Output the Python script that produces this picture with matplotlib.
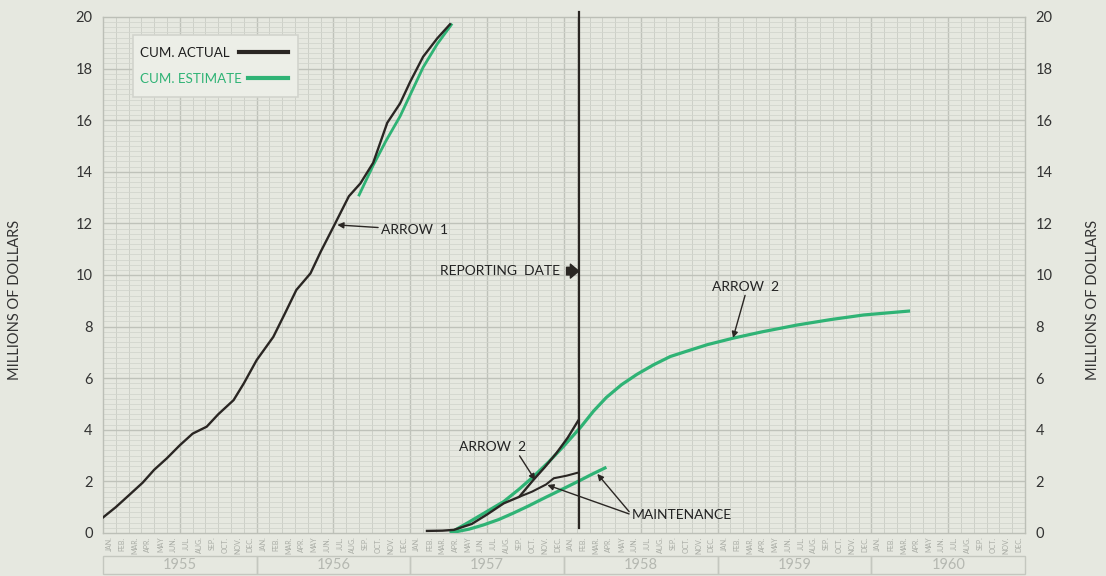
import matplotlib.pyplot as plt
from matplotlib.patches import Rectangle
import matplotlib.transforms as mtransforms

plt.rcParams['font.family'] = ['Lato', 'DejaVu Sans']

BG = '#e6e8e0'
GREEN = '#2fb375'
BLACK = '#2a2623'

years = ['1955', '1956', '1957', '1958', '1959', '1960']
months = ['JAN.', 'FEB.', 'MAR.', 'APR.', 'MAY', 'JUN.', 'JUL.', 'AUG.', 'SEP.', 'OCT.', 'NOV.', 'DEC.']

# x in months counted from start of Jan 1955, y in millions of dollars
actual1_x = [0.0, 1.0, 2.0, 3.1, 4.0, 5.0, 6.0, 7.0, 8.1, 9.0, 10.2, 11.0, 12.0, 13.3, 14.2, 15.1, 16.2,
             17.0, 18.0, 19.2, 20.1, 21.1, 22.2, 23.2, 24.0, 25.0, 26.1, 27.1]
actual1_y = [0.6, 1.0, 1.45, 1.95, 2.45, 2.9, 3.4, 3.85, 4.12, 4.6, 5.15, 5.8, 6.7, 7.6, 8.5, 9.42, 10.06,
             10.9, 11.87, 13.05, 13.55, 14.35, 15.9, 16.65, 17.5, 18.46, 19.17, 19.72]
estimate1_x = [20.0, 21.1, 22.1, 23.2, 24.1, 25.0, 26.1, 27.2]
estimate1_y = [13.1, 14.25, 15.2, 16.15, 17.1, 18.05, 18.95, 19.7]

actual2_x = [25.3, 26.5, 27.4, 28.8, 30.0, 31.3, 32.5, 33.6, 34.5, 35.4, 36.3, 37.1]
actual2_y = [0.08, 0.09, 0.12, 0.35, 0.72, 1.15, 1.4, 2.05, 2.55, 3.09, 3.7, 4.35]
maint_act_x = [32.5, 33.5, 34.6, 35.2, 36.2, 37.1]
maint_act_y = [1.4, 1.6, 1.88, 2.12, 2.22, 2.34]

estimate2_x = [27.2, 28.5, 29.8, 31.3, 32.5, 33.6, 34.8, 36.0, 37.3, 38.3, 39.3, 40.5, 41.7, 43.0, 44.3,
               45.8, 47.2, 49.2, 51.5, 54.2, 56.8, 59.4, 62.9]
estimate2_y = [0.03, 0.4, 0.78, 1.22, 1.7, 2.18, 2.75, 3.38, 4.1, 4.72, 5.25, 5.75, 6.15, 6.52, 6.84,
               7.08, 7.3, 7.55, 7.8, 8.06, 8.27, 8.45, 8.6]
maint_est_x = [27.4, 28.6, 29.7, 30.9, 32.0, 33.2, 34.4, 35.8, 37.1, 38.2, 39.2]
maint_est_y = [0.03, 0.15, 0.31, 0.52, 0.76, 1.04, 1.34, 1.68, 2.0, 2.28, 2.52]

reporting_date = 37.15

fig = plt.figure(figsize=(11.06, 5.76), dpi=100, facecolor=BG)
ax = fig.add_axes([0.0931, 0.0747, 0.8337, 0.8958], facecolor=BG)

ax.set_xlim(0, 72)
ax.set_ylim(0, 20)

# graph paper grid
for m in range(1, 72):
    lw = 1.0 if m % 6 == 0 else 0.6
    ax.axvline(m, color='#c9ccc4' if m % 6 else '#bfc2ba', lw=lw, zorder=0)
for i in range(1, 100):
    v = i * 0.2
    major = i % 10 == 0
    ax.axhline(v, color='#bfc2ba' if major else '#d2d5cd', lw=1.0 if major else 0.6, zorder=0)

for s in ax.spines.values():
    s.set_color('#bcbfb7')
    s.set_linewidth(1.0)

ax.set_xticks([])
ax.set_yticks(range(0, 21, 2))
ax.tick_params(axis='y', left=False, right=False, labelleft=True, labelright=True,
               labelsize=10.5, labelcolor='#333333', pad=4)

# lines
ax.plot(actual1_x, actual1_y, color=BLACK, lw=1.7, zorder=4)
ax.plot(estimate1_x, estimate1_y, color=GREEN, lw=2.0, zorder=3)
ax.plot(estimate2_x, estimate2_y, color=GREEN, lw=2.3, zorder=3)
ax.plot(maint_est_x, maint_est_y, color=GREEN, lw=2.3, zorder=3)
ax.plot(actual2_x, actual2_y, color=BLACK, lw=1.7, zorder=4)
ax.plot(maint_act_x, maint_act_y, color=BLACK, lw=1.5, zorder=4)

ax.axvline(reporting_date, ymin=0.01, ymax=1.01, color=BLACK, lw=1.6, clip_on=False, zorder=5)

# annotations
arrow = dict(arrowstyle='-|>', color=BLACK, lw=1.0, mutation_scale=9, shrinkA=0, shrinkB=0)
ax.annotate('ARROW  1', xy=(18.3, 11.94), xytext=(21.7, 11.75), fontsize=10, color='#222222',
            va='center', ha='left', arrowprops=arrow)
ax.text(35.7, 10.15, 'REPORTING  DATE', fontsize=10, color='#222222', va='center', ha='right')
ax.annotate('', xy=(reporting_date, 10.15), xytext=(36.2, 10.15),
            arrowprops=dict(arrowstyle='simple,head_width=1.0,head_length=0.6,tail_width=0.55',
                            color=BLACK, shrinkA=0, shrinkB=0))
ax.annotate('ARROW  2', xy=(49.2, 7.56), xytext=(50.2, 9.55), fontsize=10, color='#222222',
            va='center', ha='center', arrowprops=dict(arrow, relpos=(0.5, 0.0)))
ax.annotate('ARROW  2', xy=(33.75, 2.05), xytext=(30.4, 3.33), fontsize=10, color='#222222',
            va='center', ha='center', arrowprops=dict(arrow, relpos=(0.88, 0.0)))
ax.annotate('MAINTENANCE', xy=(34.7, 1.86), xytext=(41.3, 0.7), fontsize=10, color='#222222',
            va='center', ha='left', arrowprops=dict(arrow, relpos=(0.0, 0.5)))
ax.annotate('MAINTENANCE', xy=(38.6, 2.29), xytext=(41.3, 0.7), fontsize=10, color='none',
            va='center', ha='left', arrowprops=dict(arrow, relpos=(0.0, 0.5)))

# key box, text on the left and line sample on the right
ax.add_patch(Rectangle((0.0325, 0.845), 0.179, 0.12, transform=ax.transAxes,
                       facecolor='#eceee7', edgecolor='#d2d4cd', lw=1.2, zorder=6))
ax.text(0.0401, 0.931, 'CUM. ACTUAL', transform=ax.transAxes, fontsize=9.6, color='#1e1e1e',
        va='center', ha='left', zorder=7)
ax.text(0.0401, 0.880, 'CUM. ESTIMATE', transform=ax.transAxes, fontsize=9.6, color=GREEN,
        va='center', ha='left', zorder=7)
ax.plot([0.1475, 0.2007], [0.932, 0.932], transform=ax.transAxes, color=BLACK, lw=3, zorder=7)
ax.plot([0.157, 0.2007], [0.882, 0.882], transform=ax.transAxes, color=GREEN, lw=3, zorder=7)

# month and year labels under the axis
trans = mtransforms.blended_transform_factory(ax.transData, ax.transAxes)
for yi, yr in enumerate(years):
    for mi, mo in enumerate(months):
        ax.text(yi * 12 + mi + 0.5, -0.007, mo, transform=trans, rotation=90, ha='center', va='top',
                fontsize=5, color='#a9aca5', clip_on=False)
    ax.add_patch(Rectangle((yi * 12, -0.08), 12, 0.036, transform=trans, facecolor='none',
                           edgecolor='#c4c7bf', lw=1.0, clip_on=False))
    ax.text(yi * 12 + 6, -0.062, yr, transform=trans, ha='center', va='center',
            fontsize=10.5, color='#b5b8b1', clip_on=False)

fig.text(0.0136, 0.479, 'MILLIONS OF DOLLARS', rotation=90, ha='center', va='center',
         fontsize=10.5, color='#333333')
fig.text(0.988, 0.479, 'MILLIONS OF DOLLARS', rotation=90, ha='center', va='center',
         fontsize=10.5, color='#333333')

fig.savefig('out.png', dpi=100, facecolor=BG)
